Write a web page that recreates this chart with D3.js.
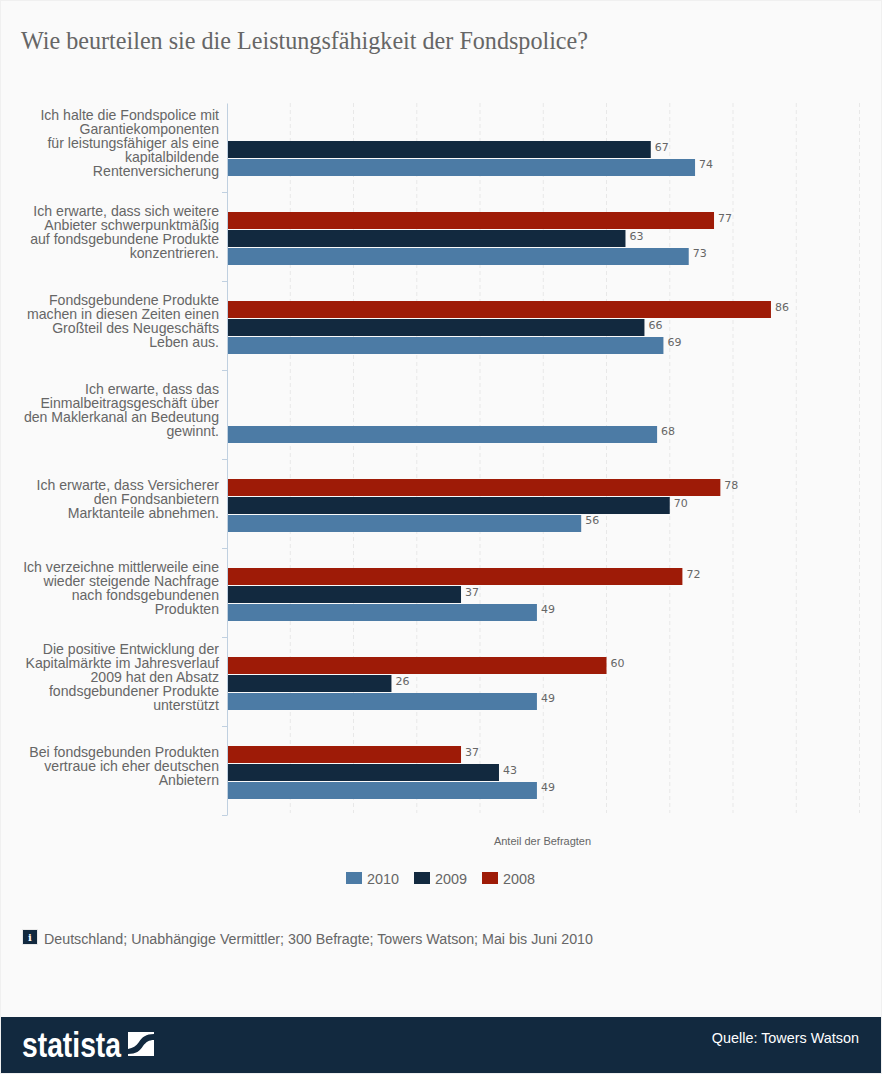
<!DOCTYPE html>
<html>
<head>
<meta charset="utf-8">
<script src="https://cdn.jsdelivr.net/npm/d3@7"></script>
<style>
  html, body { margin: 0; padding: 0; background: #fafafa; }
  svg { display: block; }
  text { font-family: "Liberation Sans", Arial, sans-serif; fill: #666; }
</style>
</head>
<body>
<svg></svg>
<script>
const categories = [
  ["Ich halte die Fondspolice mit", "Garantiekomponenten", "für leistungsfähiger als eine", "kapitalbildende", "Rentenversicherung"],
  ["Ich erwarte, dass sich weitere", "Anbieter schwerpunktmäßig", "auf fondsgebundene Produkte", "konzentrieren."],
  ["Fondsgebundene Produkte", "machen in diesen Zeiten einen", "Großteil des Neugeschäfts", "Leben aus."],
  ["Ich erwarte, dass das", "Einmalbeitragsgeschäft über", "den Maklerkanal an Bedeutung", "gewinnt."],
  ["Ich erwarte, dass Versicherer", "den Fondsanbietern", "Marktanteile abnehmen."],
  ["Ich verzeichne mittlerweile eine", "wieder steigende Nachfrage", "nach fondsgebundenen", "Produkten"],
  ["Die positive Entwicklung der", "Kapitalmärkte im Jahresverlauf", "2009 hat den Absatz", "fondsgebundener Produkte", "unterstützt"],
  ["Bei fondsgebunden Produkten", "vertraue ich eher deutschen", "Anbietern"]
];
const values2008 = [null, 77, 86, null, 78, 72, 60, 37];
const values2009 = [67, 63, 66, null, 70, 37, 26, 43];
const values2010 = [74, 73, 69, 68, 56, 49, 49, 49];
const seriesNames = ["2008", "2009", "2010"];
const legendOrder = ["2010", "2009", "2008"];
const seriesColors = { "2010": "#4c7ba5", "2009": "#12293f", "2008": "#9e1b07" };
const seriesValues = { "2008": values2008, "2009": values2009, "2010": values2010 };

const width = 882, height = 1074;
const svg = d3.select("svg").attr("width", width).attr("height", height);

// page frame
svg.append("rect").attr("width", width).attr("height", height).attr("fill", "#f0f0f0");
svg.append("rect").attr("x", 1).attr("y", 1).attr("width", width - 2).attr("height", height - 2).attr("fill", "#fafafa");

svg.append("text").attr("x", 21).attr("y", 49)
  .style("font-family", "'Liberation Serif', serif").style("font-size", "25px")
  .attr("textLength", 567).attr("lengthAdjust", "spacingAndGlyphs")
  .text("Wie beurteilen sie die Leistungsfähigkeit der Fondspolice?");

const x = d3.scaleLinear().domain([0, 100]).range([227, 859.5]);
const y = d3.scaleBand().domain(d3.range(categories.length)).range([103, 815]);
const inner = d3.scaleBand().domain(seriesNames).range([20, 74]);
const yTicks = d3.scaleLinear().domain([0, categories.length]).range([103, 815]);

// grid
svg.append("g").selectAll("line").data(x.ticks(10).slice(1)).enter().append("line")
  .attr("x1", d => x(d)).attr("x2", d => x(d))
  .attr("y1", 103).attr("y2", 813)
  .attr("stroke", "#e8e8e8").attr("stroke-dasharray", "4,3");

// bars
const groups = svg.append("g").selectAll("g").data(seriesNames).enter().append("g");
groups.selectAll("rect")
  .data(s => seriesValues[s].map((v, i) => ({ s, v, i })).filter(d => d.v !== null))
  .enter().append("rect")
  .attr("x", x(0))
  .attr("y", d => y(d.i) + inner(d.s))
  .attr("width", d => x(d.v) - x(0))
  .attr("height", inner.bandwidth() - 1)
  .attr("fill", d => seriesColors[d.s]);

groups.selectAll("text")
  .data(s => seriesValues[s].map((v, i) => ({ s, v, i })).filter(d => d.v !== null))
  .enter().append("text")
  .attr("x", d => x(d.v) + 4)
  .attr("y", d => y(d.i) + inner(d.s) + 10 - (d.s === "2010" ? 1 : 0))
  .style("font-family", "'DejaVu Sans', sans-serif").style("font-size", "11px")
  .text(d => d.v);

// y axis
const axis = svg.append("g").attr("transform", `translate(${x(0)},0)`)
  .call(d3.axisLeft(yTicks).ticks(categories.length).tickSize(5).tickSizeOuter(0).tickFormat(""));
axis.selectAll("line,path").attr("stroke", "#c0d0e0");
axis.selectAll(".tick").filter(d => d === 0).remove();

// category labels
const labels = svg.append("g").selectAll("text").data(categories).enter().append("text")
  .attr("text-anchor", "end").style("font-size", "14.1px");
labels.selectAll("tspan").data((d, i) => d.map((t, j) => ({ t, j, i, n: d.length }))).enter().append("tspan")
  .attr("x", 219)
  .attr("y", d => y(d.i) + y.bandwidth() / 2 + (d.j - (d.n - 1) / 2) * 14)
  .text(d => d.t);

svg.append("text").attr("x", 542.5).attr("y", 845).attr("text-anchor", "middle")
  .style("font-size", "11px").text("Anteil der Befragten");

// legend
const legendX = d3.scalePoint().domain(legendOrder).range([346, 482]);
const legend = svg.append("g").selectAll("g").data(legendOrder).enter().append("g")
  .attr("transform", d => `translate(${legendX(d)},872)`);
legend.append("rect").attr("width", 16).attr("height", 12).attr("fill", d => seriesColors[d]);
legend.append("text").attr("x", 21).attr("y", 12).style("font-size", "14.4px").text(d => d);

// source note
svg.append("rect").attr("x", 22).attr("y", 929).attr("width", 16).attr("height", 16).attr("fill", "#e9e9e9");
svg.append("rect").attr("x", 23).attr("y", 930).attr("width", 14).attr("height", 14).attr("fill", "#12293f");
svg.append("text").attr("x", 30).attr("y", 941).attr("text-anchor", "middle")
  .style("font-family", "'DejaVu Serif', serif").style("font-size", "10px").style("font-weight", "bold")
  .style("fill", "#fff").text("i");
svg.append("text").attr("x", 44).attr("y", 944).style("font-size", "14.25px")
  .text("Deutschland; Unabhängige Vermittler; 300 Befragte; Towers Watson; Mai bis Juni 2010");

// footer
svg.append("rect").attr("x", 1).attr("y", 1017).attr("width", width - 2).attr("height", 56).attr("fill", "#12293f");
svg.append("text").attr("x", 22).attr("y", 1057)
  .style("font-family", "'Liberation Sans Narrow', 'Liberation Sans', sans-serif")
  .style("font-size", "35px").style("font-weight", "bold").style("fill", "#fff")
  .attr("textLength", 99).attr("lengthAdjust", "spacingAndGlyphs").text("statista");
const logo = svg.append("g").attr("transform", "translate(128,1032)");
logo.append("path").attr("fill", "#fff")
  .attr("d", "M0,0 L26,0 L26,2 C18,2 14,5 11,10 C8,14 5,16 0,17 Z");
logo.append("path").attr("fill", "#fff")
  .attr("d", "M26,8 L26,24 L0,24 L0,22 C8,22 12,19 15,14 C18,10 21,8 26,8 Z");
svg.append("text").attr("x", 859).attr("y", 1043).attr("text-anchor", "end")
  .style("font-size", "14.4px").style("fill", "#fff").text("Quelle: Towers Watson");
</script>
</body>
</html>
